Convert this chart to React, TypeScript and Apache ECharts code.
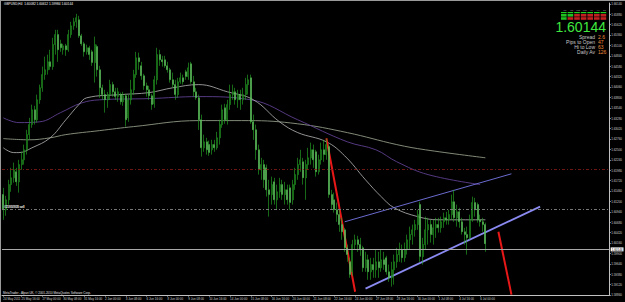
import React, { useEffect, useRef } from "react";
import * as echarts from "echarts";

const opens = [1.6137,1.6099,1.6124,1.6162,1.6179,1.6194,1.6169,1.6212,1.6224,1.6249,
1.6287,1.6312,1.6349,1.6324,1.6374,1.6404,1.6437,1.6449,1.6469,1.6457,
1.6512,1.6537,1.6514,1.6499,1.6509,1.6499,1.6537,1.6559,1.6569,1.6574,
1.6534,1.6514,1.6494,1.6504,1.6494,1.6467,1.6507,1.6449,1.6404,1.6387,
1.6374,1.6387,1.6412,1.6394,1.6382,1.6387,1.6369,1.6384,1.6329,1.6374,
1.6399,1.6437,1.6479,1.6459,1.6434,1.6409,1.6399,1.6384,1.6364,1.6424,
1.6487,1.6474,1.6474,1.6459,1.6449,1.6424,1.6412,1.6387,1.6419,1.6429,
1.6444,1.6432,1.6464,1.6419,1.6394,1.6379,1.6324,1.6254,1.6269,1.6262,
1.6249,1.6262,1.6254,1.6279,1.6312,1.6354,1.6324,1.6362,1.6387,1.6394,
1.6374,1.6387,1.6374,1.6387,1.6412,1.6429,1.6319,1.6299,1.6249,1.6199,
1.6212,1.6204,1.6149,1.6137,1.6169,1.6124,1.6144,1.6162,1.6137,1.6149,
1.6154,1.6124,1.6162,1.6187,1.6212,1.6219,1.6179,1.6212,1.6229,1.6249,
1.6244,1.6194,1.6224,1.6249,1.6237,1.6257,1.6137,1.6124,1.6099,1.6087,
1.6062,1.6049,1.6004,1.5969,1.5944,1.6012,1.6024,1.6012,1.6004,1.5954,
1.5974,1.5944,1.5962,1.5949,1.5969,1.5954,1.5974,1.5979,1.5944,1.5929,
1.5949,1.5969,1.5987,1.5999,1.5979,1.5999,1.6024,1.6037,1.6049,1.6062,
1.6112,1.5982,1.6012,1.6049,1.6062,1.6037,1.6054,1.6062,1.6054,1.6069,
1.6079,1.6074,1.6087,1.6119,1.6079,1.6094,1.6069,1.6044,1.6037,1.6029,
1.6074,1.6117,1.6112,1.6074,1.6069,1.6062];
const closes = [1.6099,1.6124,1.6162,1.6179,1.6199,1.6169,1.6212,1.6224,1.6249,1.6287,
1.6312,1.6349,1.6324,1.6374,1.6404,1.6437,1.6449,1.6469,1.6457,1.6512,
1.6537,1.6499,1.6504,1.6509,1.6499,1.6537,1.6559,1.6569,1.6579,1.6534,
1.6514,1.6494,1.6504,1.6487,1.6467,1.6512,1.6449,1.6404,1.6387,1.6374,
1.6387,1.6412,1.6394,1.6382,1.6394,1.6369,1.6384,1.6324,1.6374,1.6399,
1.6437,1.6479,1.6469,1.6434,1.6409,1.6399,1.6384,1.6362,1.6424,1.6487,
1.6474,1.6469,1.6459,1.6449,1.6424,1.6412,1.6387,1.6419,1.6429,1.6419,
1.6432,1.6454,1.6419,1.6394,1.6379,1.6324,1.6254,1.6269,1.6249,1.6242,
1.6262,1.6254,1.6279,1.6312,1.6349,1.6324,1.6362,1.6387,1.6394,1.6374,
1.6387,1.6374,1.6387,1.6412,1.6424,1.6319,1.6299,1.6249,1.6199,1.6212,
1.6174,1.6149,1.6137,1.6162,1.6124,1.6144,1.6162,1.6137,1.6149,1.6124,
1.6117,1.6162,1.6187,1.6212,1.6224,1.6179,1.6212,1.6229,1.6249,1.6224,
1.6194,1.6224,1.6249,1.6237,1.6262,1.6137,1.6112,1.6099,1.6087,1.6062,
1.6044,1.6004,1.5987,1.5937,1.6012,1.6024,1.6012,1.5999,1.5954,1.5974,
1.5944,1.5962,1.5949,1.5969,1.5954,1.5974,1.5962,1.5944,1.5929,1.5949,
1.5969,1.5987,1.5999,1.5979,1.5999,1.6024,1.6037,1.6049,1.6062,1.6087,
1.5982,1.6012,1.6049,1.6062,1.6037,1.6054,1.6062,1.6054,1.6069,1.6079,
1.6074,1.6087,1.6119,1.6079,1.6094,1.6069,1.6044,1.6037,1.6029,1.6074,
1.6117,1.6099,1.6074,1.6069,1.6062,1.60144];
const lows = [1.6074,1.6084,1.6112,1.6144,1.6167,1.6159,1.6142,1.6199,1.6212,1.6237,
1.6274,1.6304,1.6312,1.6317,1.6364,1.6394,1.6424,1.6437,1.6449,1.6449,
1.6487,1.6469,1.6494,1.6487,1.6484,1.6494,1.6529,1.6549,1.6554,1.6529,
1.6509,1.6482,1.6487,1.6474,1.6459,1.6417,1.6432,1.6379,1.6374,1.6342,
1.6354,1.6374,1.6382,1.6374,1.6369,1.6362,1.6359,1.6307,1.6319,1.6362,
1.6387,1.6429,1.6449,1.6424,1.6399,1.6382,1.6374,1.6349,1.6354,1.6412,
1.6459,1.6457,1.6454,1.6442,1.6417,1.6404,1.6374,1.6379,1.6414,1.6412,
1.6424,1.6424,1.6414,1.6382,1.6374,1.6299,1.6232,1.6244,1.6237,1.6234,
1.6237,1.6244,1.6249,1.6262,1.6304,1.6314,1.6312,1.6349,1.6374,1.6362,
1.6354,1.6349,1.6362,1.6374,1.6387,1.6314,1.6274,1.6224,1.6187,1.6174,
1.6154,1.6132,1.6082,1.6112,1.6112,1.6099,1.6129,1.6124,1.6112,1.6112,
1.6099,1.6112,1.6149,1.6174,1.6194,1.6162,1.6124,1.6199,1.6212,1.6204,
1.6182,1.6187,1.6212,1.6219,1.6224,1.6129,1.6099,1.6092,1.6069,1.6044,
1.6024,1.5994,1.5969,1.5929,1.5934,1.5999,1.5994,1.5984,1.5944,1.5944,
1.5924,1.5924,1.5929,1.5929,1.5929,1.5944,1.5949,1.5937,1.5919,1.5907,
1.5912,1.5954,1.5969,1.5967,1.5969,1.5987,1.5999,1.6012,1.6032,1.6049,
1.5969,1.5962,1.5999,1.6012,1.6017,1.6012,1.6029,1.6042,1.6042,1.6054,
1.6062,1.6062,1.6074,1.6069,1.6057,1.6054,1.6037,1.6012,1.5987,1.6024,
1.6069,1.6082,1.6067,1.6057,1.6044,1.5994];
const highs = [1.6154,1.6134,1.6174,1.6204,1.6217,1.6204,1.6224,1.6244,1.6262,1.6299,
1.6329,1.6362,1.6359,1.6387,1.6412,1.6457,1.6482,1.6487,1.6499,1.6529,
1.6549,1.6549,1.6524,1.6514,1.6514,1.6549,1.6569,1.6579,1.6589,1.6584,
1.6539,1.6519,1.6512,1.6509,1.6499,1.6532,1.6512,1.6459,1.6412,1.6399,
1.6394,1.6424,1.6419,1.6404,1.6404,1.6392,1.6394,1.6389,1.6387,1.6424,
1.6449,1.6494,1.6492,1.6469,1.6439,1.6417,1.6409,1.6389,1.6434,1.6504,
1.6499,1.6484,1.6484,1.6469,1.6454,1.6442,1.6424,1.6429,1.6442,1.6437,
1.6449,1.6467,1.6469,1.6434,1.6404,1.6387,1.6337,1.6287,1.6279,1.6272,
1.6274,1.6274,1.6294,1.6324,1.6362,1.6364,1.6374,1.6412,1.6412,1.6404,
1.6399,1.6399,1.6404,1.6429,1.6437,1.6437,1.6337,1.6312,1.6262,1.6229,
1.6224,1.6212,1.6174,1.6182,1.6179,1.6162,1.6179,1.6174,1.6169,1.6162,
1.6162,1.6174,1.6204,1.6229,1.6249,1.6229,1.6224,1.6254,1.6267,1.6262,
1.6249,1.6237,1.6267,1.6274,1.6277,1.6262,1.6149,1.6142,1.6117,1.6099,
1.6079,1.6054,1.6012,1.5979,1.6024,1.6037,1.6034,1.6029,1.6009,1.5994,
1.5987,1.5979,1.5979,1.5999,1.5994,1.5999,1.5994,1.5984,1.5962,1.5969,
1.5987,1.6004,1.6017,1.6012,1.6017,1.6037,1.6057,1.6062,1.6074,1.6099,
1.6119,1.6029,1.6082,1.6079,1.6074,1.6074,1.6079,1.6079,1.6082,1.6092,
1.6094,1.6099,1.6137,1.6149,1.6112,1.6104,1.6079,1.6054,1.6057,1.6087,
1.6132,1.6129,1.6117,1.6087,1.6079,1.6067];

const dateLabels = ["24 May 2011","25 May 16:00","27 May 00:00","30 May 08:00","31 May 16:00","2 Jun 00:00","3 Jun 08:00","6 Jun 16:00","8 Jun 00:00","9 Jun 08:00","10 Jun 16:00","14 Jun 00:00","15 Jun 08:00","16 Jun 16:00","20 Jun 00:00","21 Jun 08:00","22 Jun 16:00","24 Jun 00:00","27 Jun 08:00","28 Jun 16:00","30 Jun 00:00","1 Jul 08:00","4 Jul 16:00","6 Jul 00:00"];
const dateLabelIdx = [0,7,15,23,31,39,47,55,63,71,79,87,95,103,111,119,127,135,143,151,159,167,175,183];

const maFast = [[0,1.6254],[4,1.6242],[6,1.6242],[11,1.6254],[18,1.6279],[24,1.6324],[29,1.6362],[32,1.6379],[45,1.6387],[56,1.6392],[65,1.6404],[75,1.6412],[86,1.6394],[96,1.6374],[106,1.6319],[113,1.6292],[124,1.6269],[131,1.6234],[139,1.6174],[145,1.6132],[150,1.6104],[159,1.6082],[167,1.6074],[185,1.6074]];
const maMid = [[0,1.6329],[6,1.6317],[14,1.6319],[22,1.6342],[30,1.6366],[37,1.6374],[56,1.6377],[75,1.6382],[95,1.6374],[113,1.6324],[132,1.6269],[143,1.6249],[151,1.6219],[163,1.6187],[183,1.6162]];
const maSlow = [[0,1.6277],[10,1.6274],[18,1.6279],[24,1.6287],[37,1.6297],[50,1.6307],[75,1.6322],[94,1.6322],[113,1.6314],[132,1.6292],[151,1.6262],[162,1.6249],[185,1.6229]];

const redLine1 = [[124,1.6278],[135,1.5894]];
const redLine2 = [[190,1.6044],[195,1.5887]];
const channelTop = [[131,1.6069],[195,1.6189]];
const channelBottom = [[139,1.5902],[206,1.6107]];

const redLevel = 1.6180;
const orderLevels = [1.61155, 1.60698];
const orderNames = ["#21850928 sell", "#21937835 sell"];
const bid = 1.60144;

const panelLabels = ["Spread", "Pips to Open", "Hi to Low", "Daily Av"];
const panelValues = ["2.6", "47", "63", "126"];
const tfLabels = ["M1", "M5", "M15", "M30", "H1", "H4", "D1"];

const N_SLOTS = 233;
const FONT = '"Liberation Sans", Arial, sans-serif';

export default function App() {
  const ref = useRef<HTMLDivElement>(null);
  useEffect(() => {
    if (!ref.current) return;
    const chart = echarts.init(ref.current, undefined, { renderer: "svg" });
    const cats = Array.from({ length: N_SLOTS }, (_, i) => String(i));
    const ohlc = opens.map((o, i) => [o, closes[i], lows[i], highs[i]]);
    const labelMap: Record<number, string> = {};
    dateLabelIdx.forEach((idx, k) => (labelMap[idx] = dateLabels[k]));
    const showLabel = (index: number) => labelMap[index] !== undefined;

    const lineS = (data: number[][], color: string, width: number, smooth: boolean | number = false) => ({
      type: "line",
      data,
      showSymbol: false,
      symbol: "none",
      smooth,
      silent: true,
      lineStyle: { color, width },
      z: 3,
    });

    const graphics: any[] = [
      { type: "line", shape: { x1: 0, y1: 0.5, x2: 625, y2: 0.5 }, style: { stroke: "#9a9a9a", lineWidth: 1 } },
      { type: "line", shape: { x1: 0.5, y1: 0, x2: 0.5, y2: 302 }, style: { stroke: "#9a9a9a", lineWidth: 1 } },
      { type: "text", x: 4, y: 4, style: { text: "GBPUSD,H4  1.60082 1.60612 1.59984 1.60144", fill: "#ffffff", font: `3.2px ${FONT}`, textVerticalAlign: "middle" } },
      { type: "text", x: 3, y: 293, style: { text: "MetaTrader - Alpari UK, © 2001-2010 MetaQuotes Software Corp.", fill: "#e0e0e0", font: `3px ${FONT}`, textVerticalAlign: "middle" } },
      { type: "text", x: 606, y: 27, style: { text: "1.60144", fill: "#3fe83f", font: `14px ${FONT}`, lineHeight: 10, textAlign: "right", textVerticalAlign: "middle" } },
    ];
    panelLabels.forEach((t, k) => {
      graphics.push({ type: "text", x: 595, y: 36.5 + k * 5, style: { text: t, fill: "#c8c8c8", font: `5px ${FONT}`, lineHeight: 4.5, textAlign: "right", textVerticalAlign: "middle" } });
      graphics.push({ type: "text", x: 598, y: 36.5 + k * 5, style: { text: panelValues[k], fill: "#f08a3a", font: `5px ${FONT}`, lineHeight: 4.5, textAlign: "left", textVerticalAlign: "middle" } });
    });
    tfLabels.forEach((t, k) => {
      graphics.push({ type: "text", x: 562 + k * 6.6 + 3, y: 10, style: { text: t, fill: "#b0b0b0", font: `2px ${FONT}`, textAlign: "center", textVerticalAlign: "middle" } });
      graphics.push({ type: "rect", shape: { x: 561 + k * 6.6, y: 12, width: 5.6, height: 1.2 }, style: { fill: "#20d020" } });
      graphics.push({ type: "rect", shape: { x: 561 + k * 6.6, y: 14, width: 5.6, height: 2.6 }, style: { fill: k < 2 ? "#20c020" : "#c02020" } });
      graphics.push({ type: "rect", shape: { x: 561 + k * 6.6, y: 17.2, width: 5.6, height: 2.6 }, style: { fill: k < 1 ? "#20c020" : "#c02020" } });
    });

    chart.setOption({
      animation: false,
      backgroundColor: "#000000",
      textStyle: { fontFamily: FONT },
      grid: { left: 2, right: 13, top: 3, bottom: 7, containLabel: false },
      xAxis: {
        type: "category",
        data: cats,
        boundaryGap: true,
        axisLine: { lineStyle: { color: "#c0c0c0", width: 1 } },
        axisTick: { show: true, interval: (i: number) => showLabel(i), alignWithLabel: true, length: 1.5, lineStyle: { color: "#c0c0c0" } },
        axisLabel: {
          interval: (i: number) => showLabel(i),
          formatter: (v: string) => labelMap[Number(v)] ?? "",
          color: "#d0d0d0",
          fontSize: 3,
          align: "left",
          margin: 2,
        },
        splitLine: { show: false },
      },
      yAxis: {
        type: "value",
        position: "right",
        min: 1.5886,
        max: 1.6616,
        interval: 0.0026,
        axisLine: { show: true, lineStyle: { color: "#c0c0c0", width: 1 } },
        axisTick: { show: true, length: 1.5, lineStyle: { color: "#c0c0c0" } },
        axisLabel: { color: "#d0d0d0", fontSize: 3, margin: 2, formatter: (v: number) => v.toFixed(5) },
        splitLine: { show: false },
      },
      series: [
        lineS(maSlow, "#8e9a86", 0.9, 0.4),
        lineS(maMid, "#5e3f8e", 0.9, 0.4),
        lineS(maFast, "#b8b8b8", 0.8, 0.4),
        {
          type: "candlestick",
          data: ohlc,
          barWidth: 1.5,
          silent: true,
          z: 4,
          itemStyle: { color: "#000000", color0: "#ffffff", borderColor: "#26b026", borderColor0: "#26b026", borderWidth: 0.6 },
        },
        {
          type: "line",
          data: [],
          silent: true,
          z: 6,
          markLine: {
            symbol: "none",
            silent: true,
            animation: false,
            data: [
              { yAxis: redLevel, lineStyle: { color: "#8c1c1c", type: [3, 2, 1, 2], width: 0.8 }, label: { show: false } },
              ...orderLevels.map((lv, k) => ({
                yAxis: lv,
                lineStyle: { color: "#7c7c7c", type: [3, 2, 1, 2], width: 0.8 },
                label: { show: true, position: "insideStartTop", formatter: orderNames[k], color: "#e0e0e0", fontSize: 3, distance: [2, 1] },
              })),
              {
                yAxis: bid,
                lineStyle: { color: "#a8a8a8", type: "solid", width: 1 },
                label: { show: true, position: "end", formatter: "1.60144", backgroundColor: "#ffffff", color: "#000000", fontSize: 3, padding: [0.5, 1], distance: 1.5 },
              },
            ],
          },
        },
        lineS(channelTop, "#7676e6", 0.9),
        lineS(channelBottom, "#8a8af2", 1.8),
        lineS(redLine1, "#e81818", 2),
        lineS(redLine2, "#e81818", 2),
      ],
      graphic: graphics,
    });
    return () => chart.dispose();
  }, []);
  return <div ref={ref} style={{ width: 625, height: 302, position: "fixed", left: 0, top: 0 }} />;
}
